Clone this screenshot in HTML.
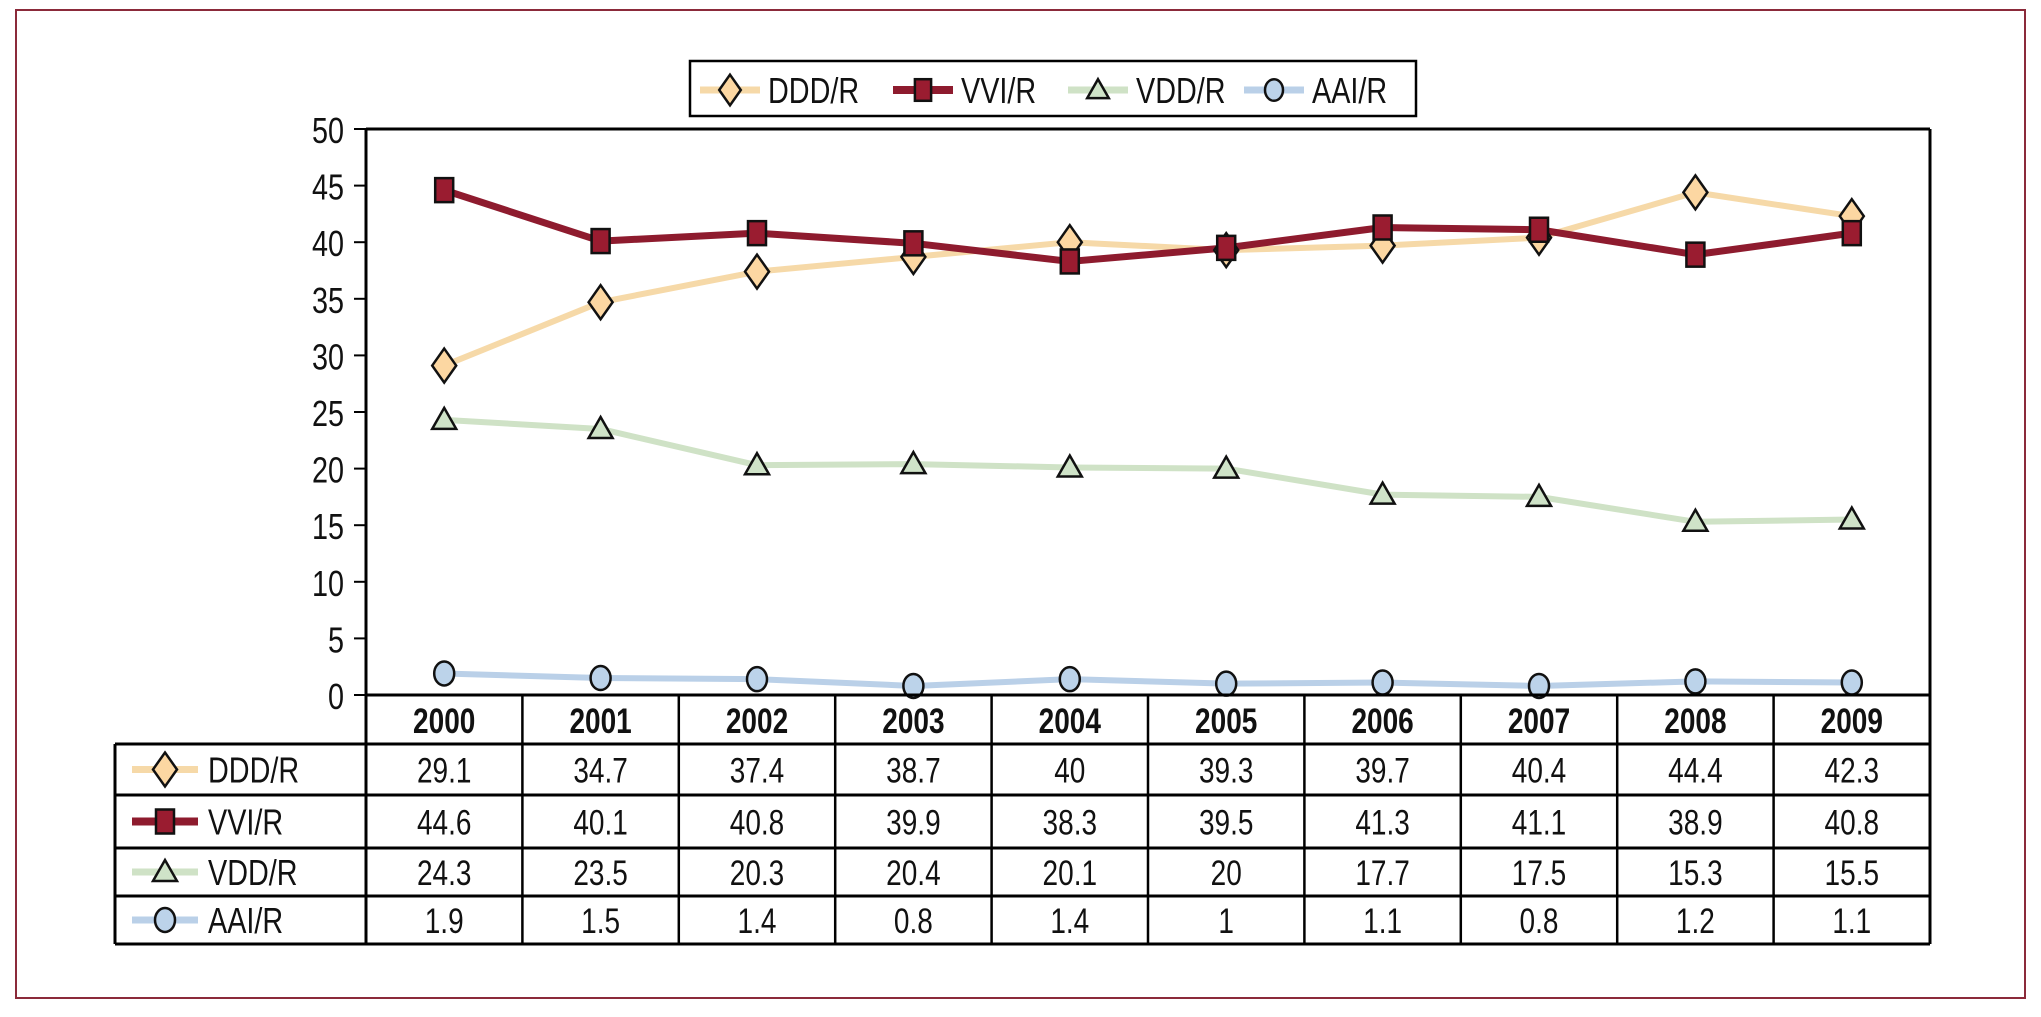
<!DOCTYPE html>
<html><head><meta charset="utf-8">
<style>
html,body{margin:0;padding:0;background:#fff;}
body{width:2041px;height:1012px;overflow:hidden;position:relative;font-family:"Liberation Sans Narrow","Liberation Sans",sans-serif;}
svg text{font-family:"Liberation Sans Narrow","Liberation Sans",sans-serif;}
</style></head>
<body>
<svg id="chart" width="2041" height="1012" viewBox="0 0 2041 1012" xmlns="http://www.w3.org/2000/svg">
<rect x="16" y="10" width="2009" height="988" fill="none" stroke="#8b2a3a" stroke-width="2"/>
<g id="grid"></g>
<g id="lines"></g>
<g id="table"></g>
<g id="legend"></g>
</svg>
<script>
const years = ["2000","2001","2002","2003","2004","2005","2006","2007","2008","2009"];
const seriesNames = ["DDD/R","VVI/R","VDD/R","AAI/R"];
const dddValues = [29.1,34.7,37.4,38.7,40,39.3,39.7,40.4,44.4,42.3];
const vviValues = [44.6,40.1,40.8,39.9,38.3,39.5,41.3,41.1,38.9,40.8];
const vddValues = [24.3,23.5,20.3,20.4,20.1,20,17.7,17.5,15.3,15.5];
const aaiValues = [1.9,1.5,1.4,0.8,1.4,1,1.1,0.8,1.2,1.1];
const yTicks = [0,5,10,15,20,25,30,35,40,45,50];

const NS="http://www.w3.org/2000/svg";
const X0=366, X1=1930, Y0=695, Y50=129;
const colW=(X1-X0)/years.length;
function xScale(i){return X0+colW*(i+0.5);}
function yScale(v){return Y0-(Y0-Y50)*v/50;}
function mk(tag,attrs,parent){const e=document.createElementNS(NS,tag);for(const k in attrs)e.setAttribute(k,attrs[k]);parent.appendChild(e);return e;}
function txt(x,y,anchor,size,weight,parent){
  return mk('text',{x:0,y:0,"text-anchor":anchor,"font-size":size,"font-weight":weight,fill:"#111",transform:`translate(${x},${y}) scale(0.8,1)`},parent);
}
const grid=document.getElementById('grid'),lines=document.getElementById('lines'),table=document.getElementById('table'),legend=document.getElementById('legend');

const styles=[
 {line:"#f6d9a8",fill:"#fcd7a2",shape:"diamond",w:6},
 {line:"#8e1b2e",fill:"#9a1c30",shape:"square",w:7},
 {line:"#cfe2c6",fill:"#cfe3c8",shape:"triangle",w:6},
 {line:"#bad0e8",fill:"#bcd3ea",shape:"circle",w:6}
];
const allValues=[dddValues,vviValues,vddValues,aaiValues];

function marker(shape,cx,cy,fill,parent,s){
  s=s||1;
  let e;
  if(shape==="diamond") e=mk('polygon',{points:`${cx},${cy-17*s} ${cx+12*s},${cy} ${cx},${cy+17*s} ${cx-12*s},${cy}`,fill,stroke:"#111","stroke-width":2.5},parent);
  else if(shape==="square") e=mk('rect',{x:cx-9*s,y:cy-12*s,width:18*s,height:24*s,fill,stroke:"#111","stroke-width":2.5},parent);
  else if(shape==="triangle") e=mk('polygon',{points:`${cx},${cy-12*s} ${cx+12*s},${cy+9*s} ${cx-12*s},${cy+9*s}`,fill,stroke:"#111","stroke-width":2.5},parent);
  else e=mk('ellipse',{cx,cy,rx:10*s,ry:12*s,fill,stroke:"#111","stroke-width":2.5},parent);
  return e;
}

let a=mk('line',{x1:X0,y1:Y50,x2:X1,y2:Y50,stroke:"#000","stroke-width":3},grid);

a=mk('line',{x1:X0,y1:Y50,x2:X0,y2:944,stroke:"#000","stroke-width":3},grid);

a=mk('line',{x1:X1,y1:Y50,x2:X1,y2:944,stroke:"#000","stroke-width":3},grid);

yTicks.forEach(t=>{
  const y=yScale(t);
  const l=mk('line',{x1:X0-12,y1:y,x2:X0,y2:y,stroke:"#000","stroke-width":2},grid);
  
  const tx=txt(X0-22,y+14,"end",36,"normal",grid);
  tx.textContent=t;
  
});

allValues.forEach((vals,si)=>{
  const st=styles[si];
  const pts=vals.map((v,i)=>xScale(i)+","+yScale(v)).join(" ");
  const pl=mk('polyline',{points:pts,fill:"none",stroke:st.line,"stroke-width":st.w,"stroke-linejoin":"round"},lines);
  
  
});
allValues.forEach((vals,si)=>{
  const st=styles[si];
  vals.forEach((v,i)=>{
    const m=marker(st.shape,xScale(i),yScale(v),st.fill,lines);
    
    
  });
});

const rowY=[695,744,795,848,896,944];
rowY.forEach((y,k)=>{
  const x1=k===0?X0:115;
  const l=mk('line',{x1:x1,y1:y,x2:X1,y2:y,stroke:"#000","stroke-width":3},table);
  
});
let tl=mk('line',{x1:115,y1:744,x2:115,y2:944,stroke:"#000","stroke-width":3},table);

years.forEach((yr,i)=>{
  if(i>0){const l=mk('line',{x1:X0+colW*i,y1:695,x2:X0+colW*i,y2:944,stroke:"#000","stroke-width":2.5},table);
  }
  const t=txt(xScale(i),733,"middle",35,"bold",table);
  t.textContent=yr;
  
});
allValues.forEach((vals,si)=>{
  const cy=(rowY[si+1]+rowY[si+2])/2;
  const st=styles[si];
  const ll=mk('line',{x1:132,y1:cy,x2:198,y2:cy,stroke:st.line,"stroke-width":st.w+1},table);
  
  const m=marker(st.shape,165,cy,st.fill,table);
  
  const nm=txt(208,cy+13,"start",36,"normal",table);
  nm.textContent=seriesNames[si];
  
  vals.forEach((v,i)=>{
    const t=txt(xScale(i),cy+13,"middle",35,"normal",table);
    t.textContent=v;
    
  });
});

const lb=mk('rect',{x:690,y:61,width:726,height:55,fill:"#fff",stroke:"#000","stroke-width":2.5},legend);

const legX=[700,893,1068,1244];
seriesNames.forEach((n,si)=>{
  const st=styles[si];const x=legX[si],cy=90;
  const l=mk('line',{x1:x,y1:cy,x2:x+60,y2:cy,stroke:st.line,"stroke-width":st.w+1},legend);
  
  const m=marker(st.shape,x+30,cy,st.fill,legend,0.9);
  
  const t=txt(x+68,cy+13,"start",36,"normal",legend);
  t.textContent=n;
  
});
</script>
</body></html>
